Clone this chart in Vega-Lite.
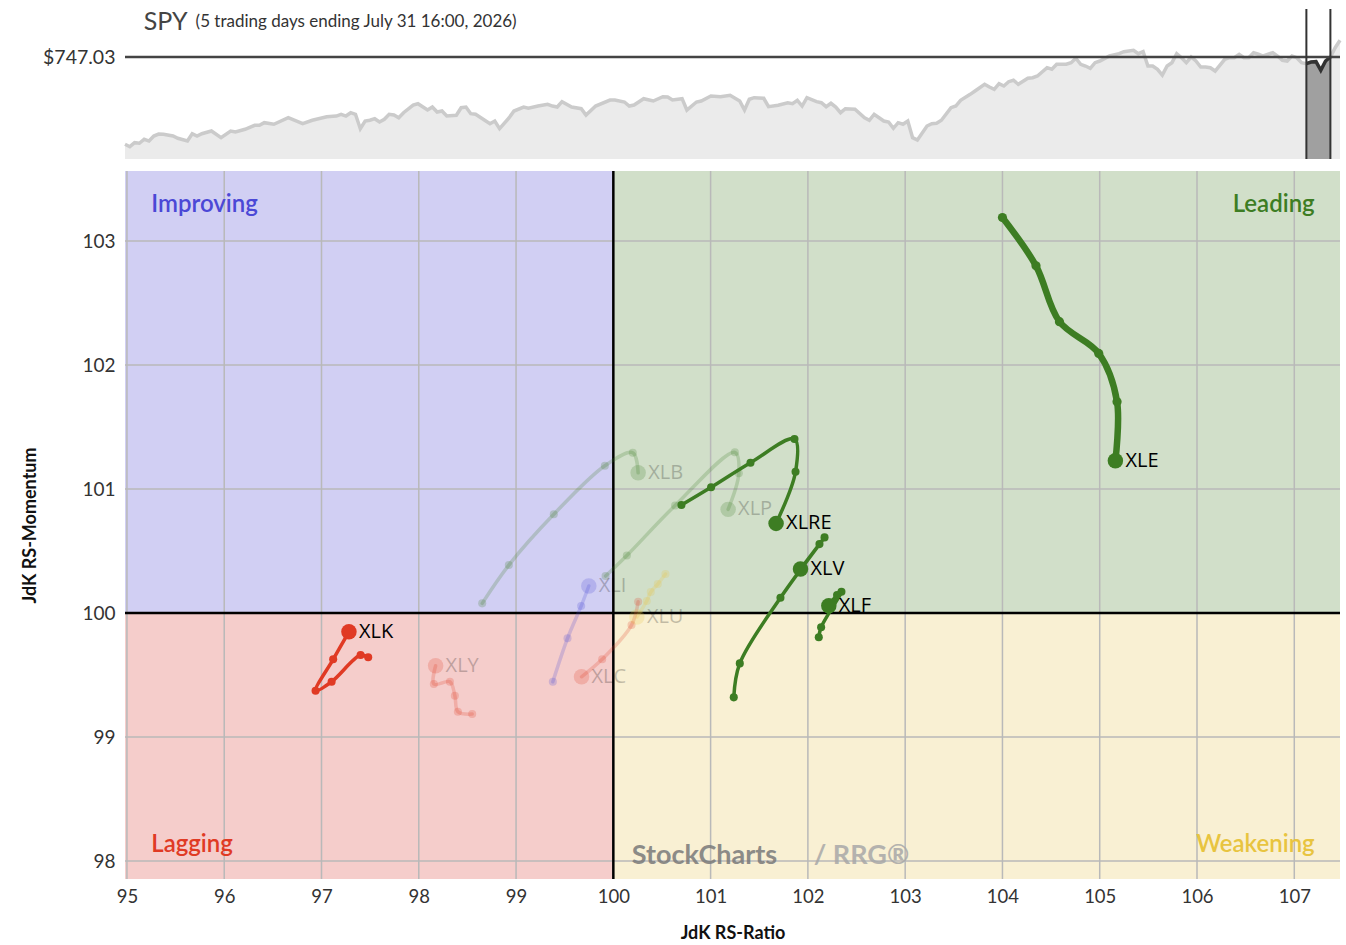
{
  "$schema": "https://vega.github.io/schema/vega-lite/v6.json",
  "padding": {"left": 21, "top": 8, "right": 5, "bottom": 5},
  "background": "white",
  "config": {"view": {"stroke": null}, "font": "Lato", "axis": {"grid": false, "ticks": false, "domain": false}},
  "spacing": 9,
  "datasets": {
    "price": [
      {"day":0,"price":642.3},{"day":1,"price":639.4},{"day":2,"price":644.2},{"day":3,"price":643.5},{"day":4,"price":648.3},{"day":5,"price":646.2},{"day":6,"price":652.2},{"day":7,"price":654.6},{"day":8,"price":654.3},{"day":10,"price":652.2},{"day":11,"price":649.5},{"day":13,"price":646.2},{"day":14,"price":655.0},{"day":15,"price":652.2},{"day":16,"price":655.0},{"day":18,"price":658.2},{"day":20,"price":650.2},{"day":22,"price":658.2},{"day":23,"price":657.0},{"day":25,"price":660.3},{"day":27,"price":665.1},{"day":28,"price":665.1},{"day":29,"price":668.2},{"day":31,"price":666.3},{"day":34,"price":674.2},{"day":37,"price":667.0},{"day":39,"price":671.1},{"day":42,"price":675.4},{"day":44,"price":676.2},{"day":45,"price":678.3},{"day":46,"price":676.2},{"day":47,"price":680.2},{"day":48,"price":678.3},{"day":49,"price":661.0},{"day":50,"price":670.2},{"day":51,"price":671.1},{"day":52,"price":673.0},{"day":53,"price":669.0},{"day":54,"price":672.3},{"day":55,"price":678.3},{"day":56,"price":677.4},{"day":57,"price":674.2},{"day":58,"price":680.2},{"day":60,"price":689.4},{"day":61,"price":691.0},{"day":63,"price":683.4},{"day":64,"price":687.0},{"day":65,"price":681.0},{"day":66,"price":682.2},{"day":67,"price":676.2},{"day":69,"price":677.1},{"day":70,"price":686.2},{"day":71,"price":687.0},{"day":72,"price":679.0},{"day":73,"price":678.3},{"day":76,"price":667.0},{"day":77,"price":670.2},{"day":78,"price":661.0},{"day":80,"price":674.2},{"day":81,"price":682.2},{"day":83,"price":687.0},{"day":84,"price":685.5},{"day":86,"price":688.2},{"day":88,"price":690.3},{"day":89,"price":688.2},{"day":90,"price":687.0},{"day":91,"price":693.4},{"day":93,"price":687.0},{"day":95,"price":685.0},{"day":96,"price":677.4},{"day":98,"price":688.2},{"day":101,"price":695.4},{"day":102,"price":695.4},{"day":104,"price":693.0},{"day":105,"price":688.2},{"day":106,"price":689.4},{"day":108,"price":697.0},{"day":110,"price":694.2},{"day":112,"price":699.4},{"day":113,"price":699.0},{"day":114,"price":695.4},{"day":116,"price":697.0},{"day":117,"price":683.4},{"day":119,"price":693.0},{"day":120,"price":694.2},{"day":122,"price":700.2},{"day":124,"price":699.4},{"day":126,"price":701.1},{"day":128,"price":694.2},{"day":129,"price":683.4},{"day":130,"price":696.3},{"day":131,"price":698.2},{"day":133,"price":697.5},{"day":134,"price":687.4},{"day":136,"price":689.1},{"day":138,"price":692.2},{"day":139,"price":691.0},{"day":140,"price":695.1},{"day":141,"price":688.2},{"day":142,"price":698.2},{"day":144,"price":693.4},{"day":145,"price":692.2},{"day":146,"price":687.4},{"day":147,"price":691.5},{"day":148,"price":687.0},{"day":149,"price":680.2},{"day":150,"price":685.0},{"day":152,"price":684.3},{"day":154,"price":674.2},{"day":155,"price":671.1},{"day":156,"price":678.3},{"day":158,"price":670.2},{"day":159,"price":669.0},{"day":160,"price":661.5},{"day":161,"price":668.2},{"day":162,"price":666.3},{"day":163,"price":670.2},{"day":164,"price":650.2},{"day":165,"price":647.4},{"day":167,"price":664.2},{"day":168,"price":667.0},{"day":169,"price":667.5},{"day":170,"price":671.1},{"day":172,"price":686.2},{"day":173,"price":688.2},{"day":174,"price":695.1},{"day":176,"price":702.2},{"day":177,"price":706.2},{"day":179,"price":714.3},{"day":180,"price":711.0},{"day":181,"price":708.3},{"day":182,"price":715.0},{"day":183,"price":712.2},{"day":184,"price":717.4},{"day":185,"price":719.1},{"day":186,"price":714.3},{"day":188,"price":721.5},{"day":189,"price":722.2},{"day":190,"price":724.2},{"day":192,"price":734.2},{"day":193,"price":732.3},{"day":194,"price":738.3},{"day":196,"price":738.3},{"day":197,"price":740.2},{"day":198,"price":745.5},{"day":199,"price":738.3},{"day":200,"price":736.2},{"day":201,"price":733.5},{"day":202,"price":740.2},{"day":203,"price":742.2},{"day":205,"price":748.2},{"day":207,"price":751.0},{"day":208,"price":753.4},{"day":210,"price":755.1},{"day":211,"price":751.0},{"day":212,"price":753.4},{"day":213,"price":736.2},{"day":214,"price":736.2},{"day":215,"price":732.3},{"day":216,"price":725.4},{"day":217,"price":736.2},{"day":218,"price":740.2},{"day":219,"price":751.0},{"day":220,"price":746.2},{"day":221,"price":740.2},{"day":222,"price":747.0},{"day":223,"price":742.2},{"day":224,"price":735.0},{"day":225,"price":735.0},{"day":226,"price":734.2},{"day":227,"price":730.2},{"day":229,"price":744.3},{"day":230,"price":746.2},{"day":231,"price":746.2},{"day":232,"price":750.3},{"day":233,"price":746.2},{"day":234,"price":746.2},{"day":235,"price":752.2},{"day":236,"price":750.3},{"day":237,"price":748.2},{"day":239,"price":752.2},{"day":240,"price":748.2},{"day":241,"price":743.1},{"day":242,"price":742.2},{"day":243,"price":748.2},{"day":244,"price":746.2},{"day":245,"price":740.2},{"day":246,"price":739.0},{"day":247,"price":741.0},{"day":248,"price":741.4},{"day":249,"price":731.1},{"day":250,"price":742.2},{"day":251,"price":747.0},{"day":252,"price":758.2},{"day":253,"price":767.1}
    ],
    "window": [{"day": 246}, {"day": 251}],
    "last": [{"price": 747.03}],
    "head": [{"t": "SPY", "day": 3.9, "price": 789.0}, {"t": "(5 trading days ending July 31 16:00, 2026)", "day": 14.7, "price": 789.0}],
    "quad": [
      {"q": "Improving", "x1": 90, "x2": 100, "y1": 100, "y2": 110},
      {"q": "Leading", "x1": 100, "x2": 110, "y1": 100, "y2": 110},
      {"q": "Lagging", "x1": 90, "x2": 100, "y1": 90, "y2": 100},
      {"q": "Weakening", "x1": 100, "x2": 110, "y1": 90, "y2": 100}
    ],
    "gridx": [{"v":95},{"v":96},{"v":97},{"v":98},{"v":99},{"v":100},{"v":101},{"v":102},{"v":103},{"v":104},{"v":105},{"v":106},{"v":107}],
    "gridy": [{"v":98},{"v":99},{"v":100},{"v":101},{"v":102},{"v":103}],
    "center": [{"v": 100}],
    "qlabels": [
      {"q": "Improving", "x": 95.25, "y": 103.29},
      {"q": "Leading", "x": 107.21, "y": 103.29},
      {"q": "Lagging", "x": 95.25, "y": 98.13},
      {"q": "Weakening", "x": 107.21, "y": 98.13}
    ],
    "wm": [
      {"t": "StockCharts", "x": 100.19, "y": 98.04},
      {"t": "/ RRG®", "x": 102.06, "y": 98.04}
    ],
    "trails": [
      {"s":"XLY","o":1,"x":98.549,"y":99.185,"q":"Lagging","st":"faded"},
      {"s":"XLY","o":2,"x":98.402,"y":99.204,"q":"Lagging","st":"faded"},
      {"s":"XLY","o":3,"x":98.371,"y":99.333,"q":"Lagging","st":"faded"},
      {"s":"XLY","o":4,"x":98.32,"y":99.446,"q":"Lagging","st":"faded"},
      {"s":"XLY","o":5,"x":98.155,"y":99.427,"q":"Lagging","st":"faded"},
      {"s":"XLY","o":6,"x":98.173,"y":99.575,"q":"Lagging","st":"faded"},
      {"s":"XLC","o":1,"x":100.255,"y":100.091,"q":"Lagging","st":"faded"},
      {"s":"XLC","o":2,"x":100.187,"y":99.903,"q":"Lagging","st":"faded"},
      {"s":"XLC","o":3,"x":99.885,"y":99.627,"q":"Lagging","st":"faded"},
      {"s":"XLC","o":4,"x":99.673,"y":99.486,"q":"Lagging","st":"faded"},
      {"s":"XLU","o":1,"x":100.536,"y":100.315,"q":"Weakening","st":"faded"},
      {"s":"XLU","o":2,"x":100.457,"y":100.234,"q":"Weakening","st":"faded"},
      {"s":"XLU","o":3,"x":100.385,"y":100.169,"q":"Weakening","st":"faded"},
      {"s":"XLU","o":4,"x":100.344,"y":100.097,"q":"Weakening","st":"faded"},
      {"s":"XLU","o":5,"x":100.242,"y":99.968,"q":"Weakening","st":"faded"},
      {"s":"XLI","o":1,"x":99.378,"y":99.446,"q":"Improving","st":"faded"},
      {"s":"XLI","o":2,"x":99.529,"y":99.796,"q":"Improving","st":"faded"},
      {"s":"XLI","o":3,"x":99.669,"y":100.056,"q":"Improving","st":"faded"},
      {"s":"XLI","o":4,"x":99.748,"y":100.218,"q":"Improving","st":"faded"},
      {"s":"XLB","o":1,"x":98.652,"y":100.078,"q":"Leading","st":"faded"},
      {"s":"XLB","o":2,"x":98.926,"y":100.387,"q":"Leading","st":"faded"},
      {"s":"XLB","o":3,"x":99.388,"y":100.796,"q":"Leading","st":"faded"},
      {"s":"XLB","o":4,"x":99.913,"y":101.188,"q":"Leading","st":"faded"},
      {"s":"XLB","o":5,"x":100.2,"y":101.293,"q":"Leading","st":"faded"},
      {"s":"XLB","o":6,"x":100.255,"y":101.131,"q":"Leading","st":"faded"},
      {"s":"XLP","o":1,"x":99.92,"y":100.298,"q":"Leading","st":"faded"},
      {"s":"XLP","o":2,"x":100.139,"y":100.464,"q":"Leading","st":"faded"},
      {"s":"XLP","o":3,"x":100.635,"y":100.867,"q":"Leading","st":"faded"},
      {"s":"XLP","o":4,"x":101.249,"y":101.296,"q":"Leading","st":"faded"},
      {"s":"XLP","o":5,"x":101.29,"y":101.127,"q":"Leading","st":"faded"},
      {"s":"XLP","o":6,"x":101.18,"y":100.836,"q":"Leading","st":"faded"},
      {"s":"XLK","o":1,"x":97.48,"y":99.643,"q":"Lagging","st":"active"},
      {"s":"XLK","o":2,"x":97.402,"y":99.661,"q":"Lagging","st":"active"},
      {"s":"XLK","o":3,"x":97.104,"y":99.446,"q":"Lagging","st":"active"},
      {"s":"XLK","o":4,"x":96.939,"y":99.373,"q":"Lagging","st":"active"},
      {"s":"XLK","o":5,"x":97.12,"y":99.627,"q":"Lagging","st":"active"},
      {"s":"XLK","o":6,"x":97.282,"y":99.849,"q":"Lagging","st":"active"},
      {"s":"XLF","o":1,"x":102.112,"y":99.804,"q":"Leading","st":"active"},
      {"s":"XLF","o":2,"x":102.136,"y":99.885,"q":"Leading","st":"active"},
      {"s":"XLF","o":3,"x":102.345,"y":100.172,"q":"Leading","st":"active"},
      {"s":"XLF","o":4,"x":102.30,"y":100.145,"q":"Leading","st":"active"},
      {"s":"XLF","o":5,"x":102.215,"y":100.059,"q":"Leading","st":"active"},
      {"s":"XLV","o":1,"x":101.238,"y":99.32,"q":"Leading","st":"active"},
      {"s":"XLV","o":2,"x":101.30,"y":99.594,"q":"Leading","st":"active"},
      {"s":"XLV","o":3,"x":101.718,"y":100.123,"q":"Leading","st":"active"},
      {"s":"XLV","o":4,"x":102.171,"y":100.61,"q":"Leading","st":"active"},
      {"s":"XLV","o":5,"x":102.119,"y":100.556,"q":"Leading","st":"active"},
      {"s":"XLV","o":6,"x":101.924,"y":100.355,"q":"Leading","st":"active"},
      {"s":"XLRE","o":1,"x":100.70,"y":100.871,"q":"Leading","st":"active"},
      {"s":"XLRE","o":2,"x":101.005,"y":101.014,"q":"Leading","st":"active"},
      {"s":"XLRE","o":3,"x":101.41,"y":101.212,"q":"Leading","st":"active"},
      {"s":"XLRE","o":4,"x":101.862,"y":101.403,"q":"Leading","st":"active"},
      {"s":"XLRE","o":5,"x":101.873,"y":101.14,"q":"Leading","st":"active"},
      {"s":"XLRE","o":6,"x":101.673,"y":100.723,"q":"Leading","st":"active"},
      {"s":"XLE","o":1,"x":104.0,"y":103.19,"q":"Leading","st":"active"},
      {"s":"XLE","o":2,"x":104.345,"y":102.80,"q":"Leading","st":"active"},
      {"s":"XLE","o":3,"x":104.586,"y":102.35,"q":"Leading","st":"active"},
      {"s":"XLE","o":4,"x":104.99,"y":102.094,"q":"Leading","st":"active"},
      {"s":"XLE","o":5,"x":105.178,"y":101.704,"q":"Leading","st":"active"},
      {"s":"XLE","o":6,"x":105.161,"y":101.228,"q":"Leading","st":"active"}
    ]
  },
  "vconcat": [
    {
      "width": 1215,
      "height": 150,
      "layer": [
        {
          "data": {"name": "price"},
          "mark": {"type": "area", "color": "#ebebeb"},
          "encoding": {
            "x": {"field": "day", "type": "quantitative", "scale": {"domain": [0, 253], "nice": false, "zero": false}, "axis": null},
            "y": {"field": "price", "type": "quantitative", "scale": {"domain": [624.63, 804.63], "nice": false, "zero": false},
                  "axis": {"values": [747.03], "labelExpr": "'$' + format(datum.value, '.2f')", "title": null, "labelFontSize": 19.5, "labelPadding": 10, "labelColor": "#333"}},
            "y2": {"datum": 624.63}
          }
        },
        {
          "data": {"name": "price"},
          "mark": {"type": "line", "color": "#cbcbcb", "strokeWidth": 3.5},
          "encoding": {
            "x": {"field": "day", "type": "quantitative", "scale": {"domain": [0, 253], "nice": false, "zero": false}, "axis": null},
            "y": {"field": "price", "type": "quantitative", "scale": {"domain": [624.63, 804.63], "nice": false, "zero": false},
                  "axis": {"values": [747.03], "labelExpr": "'$' + format(datum.value, '.2f')", "title": null, "labelFontSize": 19.5, "labelPadding": 10, "labelColor": "#333"}}
          }
        },
        {
          "data": {"name": "price"},
          "transform": [{"filter": "datum.day >= 246 && datum.day <= 251"}],
          "mark": {"type": "area", "color": "#a0a0a0"},
          "encoding": {
            "x": {"field": "day", "type": "quantitative", "scale": {"domain": [0, 253], "nice": false, "zero": false}, "axis": null},
            "y": {"field": "price", "type": "quantitative", "scale": {"domain": [624.63, 804.63], "nice": false, "zero": false},
                  "axis": {"values": [747.03], "labelExpr": "'$' + format(datum.value, '.2f')", "title": null, "labelFontSize": 19.5, "labelPadding": 10, "labelColor": "#333"}},
            "y2": {"datum": 624.63}
          }
        },
        {
          "data": {"name": "price"},
          "transform": [{"filter": "datum.day >= 246 && datum.day <= 251"}],
          "mark": {"type": "line", "color": "#333333", "strokeWidth": 3.5},
          "encoding": {
            "x": {"field": "day", "type": "quantitative", "scale": {"domain": [0, 253], "nice": false, "zero": false}, "axis": null},
            "y": {"field": "price", "type": "quantitative", "scale": {"domain": [624.63, 804.63], "nice": false, "zero": false},
                  "axis": {"values": [747.03], "labelExpr": "'$' + format(datum.value, '.2f')", "title": null, "labelFontSize": 19.5, "labelPadding": 10, "labelColor": "#333"}}
          }
        },
        {
          "data": {"name": "last"},
          "mark": {"type": "rule", "color": "#444444", "strokeWidth": 2.5},
          "encoding": {
            "y": {"field": "price", "type": "quantitative", "scale": {"domain": [624.63, 804.63], "nice": false, "zero": false},
                  "axis": {"values": [747.03], "labelExpr": "'$' + format(datum.value, '.2f')", "title": null, "labelFontSize": 19.5, "labelPadding": 10, "labelColor": "#333"}}
          }
        },
        {
          "data": {"name": "window"},
          "mark": {"type": "rule", "color": "#333333", "strokeWidth": 2},
          "encoding": {
            "x": {"field": "day", "type": "quantitative", "scale": {"domain": [0, 253], "nice": false, "zero": false}, "axis": null}
          }
        },
        {
          "data": {"name": "head"},
          "transform": [{"filter": "datum.t == 'SPY'"}],
          "mark": {"type": "text", "align": "left", "baseline": "middle", "fontSize": 25, "color": "#444444"},
          "encoding": {
            "x": {"field": "day", "type": "quantitative", "scale": {"domain": [0, 253], "nice": false, "zero": false}, "axis": null},
            "y": {"field": "price", "type": "quantitative", "scale": {"domain": [624.63, 804.63], "nice": false, "zero": false},
                  "axis": {"values": [747.03], "labelExpr": "'$' + format(datum.value, '.2f')", "title": null, "labelFontSize": 19.5, "labelPadding": 10, "labelColor": "#333"}},
            "text": {"field": "t"}
          }
        },
        {
          "data": {"name": "head"},
          "transform": [{"filter": "datum.t != 'SPY'"}],
          "mark": {"type": "text", "align": "left", "baseline": "middle", "fontSize": 17, "color": "#333333"},
          "encoding": {
            "x": {"field": "day", "type": "quantitative", "scale": {"domain": [0, 253], "nice": false, "zero": false}, "axis": null},
            "y": {"field": "price", "type": "quantitative", "scale": {"domain": [624.63, 804.63], "nice": false, "zero": false},
                  "axis": {"values": [747.03], "labelExpr": "'$' + format(datum.value, '.2f')", "title": null, "labelFontSize": 19.5, "labelPadding": 10, "labelColor": "#333"}},
            "text": {"field": "t"}
          }
        }
      ]
    },
    {
      "width": 1215,
      "height": 708,
      "encoding": {},
      "layer": [
        {
          "data": {"name": "quad"},
          "mark": {"type": "rect", "clip": true},
          "encoding": {
            "x": {"field": "x1", "type": "quantitative", "scale": {"domain": [94.98, 107.47], "nice": false, "zero": false},
                  "axis": {"values": [95,96,97,98,99,100,101,102,103,104,105,106,107], "title": "JdK RS-Ratio", "labelFontSize": 18.5, "labelPadding": 8, "labelColor": "#333", "titleFontSize": 18, "titleFontWeight": "bold", "titleColor": "#111", "titlePadding": 19}},
            "x2": {"field": "x2"},
            "y": {"field": "y1", "type": "quantitative", "scale": {"domain": [97.855, 103.565], "nice": false, "zero": false},
                  "axis": {"values": [98,99,100,101,102,103], "title": "JdK RS-Momentum", "labelFontSize": 19, "labelPadding": 10, "labelColor": "#333", "titleFontSize": 18, "titleFontWeight": "bold", "titleColor": "#111", "titlePadding": 42}},
            "y2": {"field": "y2"},
            "fill": {"field": "q", "type": "nominal", "scale": {"domain": ["Improving", "Leading", "Lagging", "Weakening"], "range": ["#d1cff3", "#d1dfc9", "#f5cdcb", "#f9f0d3"]}, "legend": null}
          }
        },
        {
          "data": {"name": "gridx"},
          "mark": {"type": "rule", "color": "#b9b9b9", "strokeWidth": 1.5},
          "encoding": {
            "x": {"field": "v", "type": "quantitative", "scale": {"domain": [94.98, 107.47], "nice": false, "zero": false},
                  "axis": {"values": [95,96,97,98,99,100,101,102,103,104,105,106,107], "title": "JdK RS-Ratio", "labelFontSize": 18.5, "labelPadding": 8, "labelColor": "#333", "titleFontSize": 18, "titleFontWeight": "bold", "titleColor": "#111", "titlePadding": 19}}
          }
        },
        {
          "data": {"name": "gridy"},
          "mark": {"type": "rule", "color": "#b9b9b9", "strokeWidth": 1.5},
          "encoding": {
            "y": {"field": "v", "type": "quantitative", "scale": {"domain": [97.855, 103.565], "nice": false, "zero": false},
                  "axis": {"values": [98,99,100,101,102,103], "title": "JdK RS-Momentum", "labelFontSize": 19, "labelPadding": 10, "labelColor": "#333", "titleFontSize": 18, "titleFontWeight": "bold", "titleColor": "#111", "titlePadding": 42}}
          }
        },
        {
          "data": {"name": "center"},
          "mark": {"type": "rule", "color": "#000000", "strokeWidth": 2.5},
          "encoding": {
            "x": {"field": "v", "type": "quantitative", "scale": {"domain": [94.98, 107.47], "nice": false, "zero": false},
                  "axis": {"values": [95,96,97,98,99,100,101,102,103,104,105,106,107], "title": "JdK RS-Ratio", "labelFontSize": 18.5, "labelPadding": 8, "labelColor": "#333", "titleFontSize": 18, "titleFontWeight": "bold", "titleColor": "#111", "titlePadding": 19}}
          }
        },
        {
          "data": {"name": "center"},
          "mark": {"type": "rule", "color": "#000000", "strokeWidth": 2.5},
          "encoding": {
            "y": {"field": "v", "type": "quantitative", "scale": {"domain": [97.855, 103.565], "nice": false, "zero": false},
                  "axis": {"values": [98,99,100,101,102,103], "title": "JdK RS-Momentum", "labelFontSize": 19, "labelPadding": 10, "labelColor": "#333", "titleFontSize": 18, "titleFontWeight": "bold", "titleColor": "#111", "titlePadding": 42}}
          }
        },
        {
          "data": {"name": "qlabels"},
          "transform": [{"filter": "datum.q == 'Improving' || datum.q == 'Lagging'"}],
          "mark": {"type": "text", "align": "left", "baseline": "middle", "fontSize": 24, "fontWeight": 600},
          "encoding": {
            "x": {"field": "x", "type": "quantitative", "scale": {"domain": [94.98, 107.47], "nice": false, "zero": false},
                  "axis": {"values": [95,96,97,98,99,100,101,102,103,104,105,106,107], "title": "JdK RS-Ratio", "labelFontSize": 18.5, "labelPadding": 8, "labelColor": "#333", "titleFontSize": 18, "titleFontWeight": "bold", "titleColor": "#111", "titlePadding": 19}},
            "y": {"field": "y", "type": "quantitative", "scale": {"domain": [97.855, 103.565], "nice": false, "zero": false},
                  "axis": {"values": [98,99,100,101,102,103], "title": "JdK RS-Momentum", "labelFontSize": 19, "labelPadding": 10, "labelColor": "#333", "titleFontSize": 18, "titleFontWeight": "bold", "titleColor": "#111", "titlePadding": 42}},
            "text": {"field": "q"},
            "color": {"field": "q", "type": "nominal", "scale": {"domain": ["Improving", "Leading", "Lagging", "Weakening"], "range": ["#4b48d6", "#3d7d23", "#e03a24", "#e8c440"]}, "legend": null}
          }
        },
        {
          "data": {"name": "qlabels"},
          "transform": [{"filter": "datum.q == 'Leading' || datum.q == 'Weakening'"}],
          "mark": {"type": "text", "align": "right", "baseline": "middle", "fontSize": 24, "fontWeight": 600},
          "encoding": {
            "x": {"field": "x", "type": "quantitative", "scale": {"domain": [94.98, 107.47], "nice": false, "zero": false},
                  "axis": {"values": [95,96,97,98,99,100,101,102,103,104,105,106,107], "title": "JdK RS-Ratio", "labelFontSize": 18.5, "labelPadding": 8, "labelColor": "#333", "titleFontSize": 18, "titleFontWeight": "bold", "titleColor": "#111", "titlePadding": 19}},
            "y": {"field": "y", "type": "quantitative", "scale": {"domain": [97.855, 103.565], "nice": false, "zero": false},
                  "axis": {"values": [98,99,100,101,102,103], "title": "JdK RS-Momentum", "labelFontSize": 19, "labelPadding": 10, "labelColor": "#333", "titleFontSize": 18, "titleFontWeight": "bold", "titleColor": "#111", "titlePadding": 42}},
            "text": {"field": "q"},
            "color": {"field": "q", "type": "nominal", "scale": {"domain": ["Improving", "Leading", "Lagging", "Weakening"], "range": ["#4b48d6", "#3d7d23", "#e03a24", "#e8c440"]}, "legend": null}
          }
        },
        {
          "data": {"name": "wm"},
          "transform": [{"filter": "datum.t == 'StockCharts'"}],
          "mark": {"type": "text", "align": "left", "baseline": "middle", "fontSize": 27, "fontWeight": "bold", "color": "#7a7a7a", "opacity": 0.85},
          "encoding": {
            "x": {"field": "x", "type": "quantitative", "scale": {"domain": [94.98, 107.47], "nice": false, "zero": false},
                  "axis": {"values": [95,96,97,98,99,100,101,102,103,104,105,106,107], "title": "JdK RS-Ratio", "labelFontSize": 18.5, "labelPadding": 8, "labelColor": "#333", "titleFontSize": 18, "titleFontWeight": "bold", "titleColor": "#111", "titlePadding": 19}},
            "y": {"field": "y", "type": "quantitative", "scale": {"domain": [97.855, 103.565], "nice": false, "zero": false},
                  "axis": {"values": [98,99,100,101,102,103], "title": "JdK RS-Momentum", "labelFontSize": 19, "labelPadding": 10, "labelColor": "#333", "titleFontSize": 18, "titleFontWeight": "bold", "titleColor": "#111", "titlePadding": 42}},
            "text": {"field": "t"}
          }
        },
        {
          "data": {"name": "wm"},
          "transform": [{"filter": "datum.t != 'StockCharts'"}],
          "mark": {"type": "text", "align": "left", "baseline": "middle", "fontSize": 27, "fontWeight": "bold", "color": "#a8a8a8", "opacity": 0.85},
          "encoding": {
            "x": {"field": "x", "type": "quantitative", "scale": {"domain": [94.98, 107.47], "nice": false, "zero": false},
                  "axis": {"values": [95,96,97,98,99,100,101,102,103,104,105,106,107], "title": "JdK RS-Ratio", "labelFontSize": 18.5, "labelPadding": 8, "labelColor": "#333", "titleFontSize": 18, "titleFontWeight": "bold", "titleColor": "#111", "titlePadding": 19}},
            "y": {"field": "y", "type": "quantitative", "scale": {"domain": [97.855, 103.565], "nice": false, "zero": false},
                  "axis": {"values": [98,99,100,101,102,103], "title": "JdK RS-Momentum", "labelFontSize": 19, "labelPadding": 10, "labelColor": "#333", "titleFontSize": 18, "titleFontWeight": "bold", "titleColor": "#111", "titlePadding": 42}},
            "text": {"field": "t"}
          }
        },
        {
          "data": {"name": "trails"},
          "mark": {"type": "line", "interpolate": "catmull-rom", "strokeCap": "round", "strokeJoin": "round"},
          "encoding": {
            "x": {"field": "x", "type": "quantitative", "scale": {"domain": [94.98, 107.47], "nice": false, "zero": false},
                  "axis": {"values": [95,96,97,98,99,100,101,102,103,104,105,106,107], "title": "JdK RS-Ratio", "labelFontSize": 18.5, "labelPadding": 8, "labelColor": "#333", "titleFontSize": 18, "titleFontWeight": "bold", "titleColor": "#111", "titlePadding": 19}},
            "y": {"field": "y", "type": "quantitative", "scale": {"domain": [97.855, 103.565], "nice": false, "zero": false},
                  "axis": {"values": [98,99,100,101,102,103], "title": "JdK RS-Momentum", "labelFontSize": 19, "labelPadding": 10, "labelColor": "#333", "titleFontSize": 18, "titleFontWeight": "bold", "titleColor": "#111", "titlePadding": 42}},
            "detail": {"field": "s"},
            "order": {"field": "o", "type": "quantitative"},
            "color": {"field": "q", "type": "nominal", "scale": {"domain": ["Improving", "Leading", "Lagging", "Weakening"], "range": ["#4b48d6", "#3d7d23", "#e03a24", "#e8c440"]}, "legend": null},
            "opacity": {"field": "st", "type": "nominal", "scale": {"domain": ["active", "faded"], "range": [1, 0.22]}, "legend": null},
            "strokeWidth": {"condition": {"test": "datum.s === 'XLE'", "value": 6.5}, "value": 3.5}
          }
        },
        {
          "data": {"name": "trails"},
          "transform": [
            {"joinaggregate": [{"op": "max", "field": "o", "as": "maxo"}], "groupby": ["s"]},
            {"filter": "datum.o < datum.maxo"}
          ],
          "mark": {"type": "circle", "opacity": 1},
          "encoding": {
            "x": {"field": "x", "type": "quantitative", "scale": {"domain": [94.98, 107.47], "nice": false, "zero": false},
                  "axis": {"values": [95,96,97,98,99,100,101,102,103,104,105,106,107], "title": "JdK RS-Ratio", "labelFontSize": 18.5, "labelPadding": 8, "labelColor": "#333", "titleFontSize": 18, "titleFontWeight": "bold", "titleColor": "#111", "titlePadding": 19}},
            "y": {"field": "y", "type": "quantitative", "scale": {"domain": [97.855, 103.565], "nice": false, "zero": false},
                  "axis": {"values": [98,99,100,101,102,103], "title": "JdK RS-Momentum", "labelFontSize": 19, "labelPadding": 10, "labelColor": "#333", "titleFontSize": 18, "titleFontWeight": "bold", "titleColor": "#111", "titlePadding": 42}},
            "color": {"field": "q", "type": "nominal", "scale": {"domain": ["Improving", "Leading", "Lagging", "Weakening"], "range": ["#4b48d6", "#3d7d23", "#e03a24", "#e8c440"]}, "legend": null},
            "opacity": {"field": "st", "type": "nominal", "scale": {"domain": ["active", "faded"], "range": [1, 0.22]}, "legend": null},
            "size": {"condition": {"test": "datum.s === 'XLE'", "value": 85}, "value": 65}
          }
        },
        {
          "data": {"name": "trails"},
          "transform": [
            {"joinaggregate": [{"op": "max", "field": "o", "as": "maxo"}], "groupby": ["s"]},
            {"filter": "datum.o == datum.maxo"}
          ],
          "mark": {"type": "circle", "size": 240},
          "encoding": {
            "x": {"field": "x", "type": "quantitative", "scale": {"domain": [94.98, 107.47], "nice": false, "zero": false},
                  "axis": {"values": [95,96,97,98,99,100,101,102,103,104,105,106,107], "title": "JdK RS-Ratio", "labelFontSize": 18.5, "labelPadding": 8, "labelColor": "#333", "titleFontSize": 18, "titleFontWeight": "bold", "titleColor": "#111", "titlePadding": 19}},
            "y": {"field": "y", "type": "quantitative", "scale": {"domain": [97.855, 103.565], "nice": false, "zero": false},
                  "axis": {"values": [98,99,100,101,102,103], "title": "JdK RS-Momentum", "labelFontSize": 19, "labelPadding": 10, "labelColor": "#333", "titleFontSize": 18, "titleFontWeight": "bold", "titleColor": "#111", "titlePadding": 42}},
            "color": {"field": "q", "type": "nominal", "scale": {"domain": ["Improving", "Leading", "Lagging", "Weakening"], "range": ["#4b48d6", "#3d7d23", "#e03a24", "#e8c440"]}, "legend": null},
            "opacity": {"field": "st", "type": "nominal", "scale": {"domain": ["active", "faded"], "range": [1, 0.22]}, "legend": null}
          }
        },
        {
          "data": {"name": "trails"},
          "transform": [
            {"joinaggregate": [{"op": "max", "field": "o", "as": "maxo"}], "groupby": ["s"]},
            {"filter": "datum.o == datum.maxo"}
          ],
          "mark": {"type": "text", "align": "left", "baseline": "middle", "dx": 10, "fontSize": 20, "font": "Open Sans", "color": "#000000"},
          "encoding": {
            "x": {"field": "x", "type": "quantitative", "scale": {"domain": [94.98, 107.47], "nice": false, "zero": false},
                  "axis": {"values": [95,96,97,98,99,100,101,102,103,104,105,106,107], "title": "JdK RS-Ratio", "labelFontSize": 18.5, "labelPadding": 8, "labelColor": "#333", "titleFontSize": 18, "titleFontWeight": "bold", "titleColor": "#111", "titlePadding": 19}},
            "y": {"field": "y", "type": "quantitative", "scale": {"domain": [97.855, 103.565], "nice": false, "zero": false},
                  "axis": {"values": [98,99,100,101,102,103], "title": "JdK RS-Momentum", "labelFontSize": 19, "labelPadding": 10, "labelColor": "#333", "titleFontSize": 18, "titleFontWeight": "bold", "titleColor": "#111", "titlePadding": 42}},
            "text": {"field": "s"},
            "opacity": {"field": "st", "type": "nominal", "scale": {"domain": ["active", "faded"], "range": [1, 0.22]}, "legend": null}
          }
        }
      ]
    }
  ]
}
